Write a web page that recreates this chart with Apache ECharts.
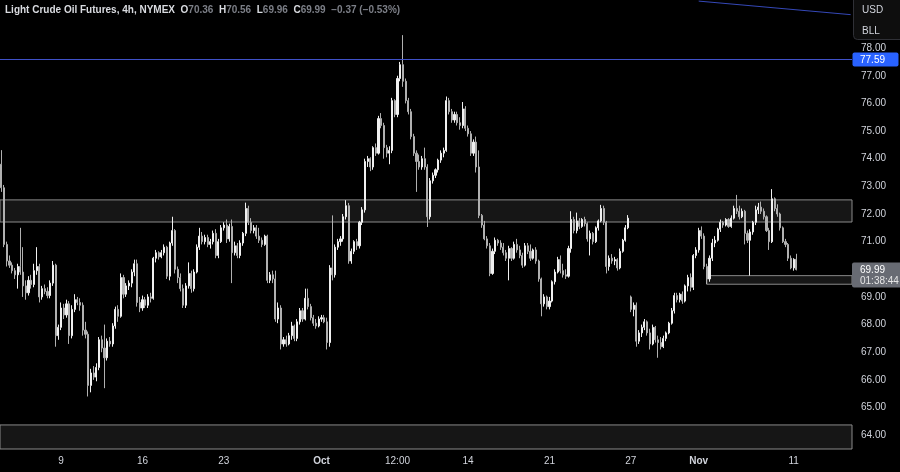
<!DOCTYPE html>
<html><head><meta charset="utf-8">
<script src="https://cdn.jsdelivr.net/npm/echarts@6/dist/echarts.min.js"></script>
<style>html,body{margin:0;padding:0;background:#000;overflow:hidden}#c{width:900px;height:472px}</style>
</head><body><div id="c"></div>
<script>
// ---- data (4h bars) ----
const opens = [
73.80,72.95,70.90,70.30,70.15,69.95,69.80,70.10,69.90,69.40,
69.15,69.60,69.45,69.95,70.10,69.00,69.30,69.20,69.05,69.50,
70.15,67.60,67.90,68.60,68.35,68.75,67.60,68.55,68.90,68.80,
68.70,67.80,67.65,65.80,66.25,66.10,66.45,67.45,67.15,66.80,
67.40,67.30,67.95,68.55,68.30,69.70,69.10,69.40,69.50,69.90,
70.20,68.80,68.60,68.90,68.70,69.00,68.95,70.40,70.60,70.45,
70.60,70.80,69.75,70.95,71.40,70.00,69.70,69.30,68.70,69.40,
69.85,69.30,69.90,70.80,71.20,71.00,71.15,70.90,71.00,71.30,
70.50,71.00,71.50,71.60,71.10,71.55,70.60,70.85,70.50,70.95,
71.30,72.20,71.70,71.40,71.50,71.20,71.05,70.90,71.20,69.60,
69.80,69.65,68.20,68.60,67.30,67.45,67.30,67.60,67.95,67.50,
68.10,68.50,68.20,68.95,68.65,68.25,68.05,67.95,68.20,68.25,
68.10,67.35,70.05,69.80,70.80,71.00,71.10,71.90,72.30,70.30,
70.65,71.00,70.85,71.70,72.15,73.90,74.00,73.70,74.40,74.20,
75.45,75.20,74.40,74.20,74.30,76.10,75.60,76.90,77.40,76.80,
76.10,75.70,74.80,74.20,73.90,73.70,74.00,73.70,71.90,73.20,
73.40,73.60,73.95,74.20,74.30,76.10,75.70,75.40,75.60,75.30,
75.20,75.80,75.10,74.90,74.20,74.60,73.70,71.95,71.60,71.10,
70.85,69.85,70.65,71.05,70.95,70.80,70.60,70.40,70.75,70.40,
70.90,70.70,70.50,70.15,70.85,70.65,70.40,70.70,70.30,69.65,
68.75,69.00,68.65,68.85,69.55,69.90,70.35,69.95,69.80,69.75,
70.75,71.80,71.40,71.75,71.55,71.80,71.65,71.10,71.30,71.00,
71.50,71.75,72.20,71.70,70.10,70.40,70.30,70.35,70.05,70.65,
71.05,71.50,69.00,68.55,68.70,67.40,67.70,67.90,68.10,67.70,
67.30,67.90,67.45,67.35,67.20,67.50,67.70,68.05,68.50,69.05,
68.90,69.10,68.85,69.40,69.70,69.35,70.50,70.70,71.40,71.20,
70.10,69.65,70.40,70.95,71.05,71.45,71.70,71.60,71.80,71.55,
71.85,72.20,72.10,71.90,72.10,71.30,71.05,71.35,71.70,72.15,
72.25,72.10,71.90,71.40,71.00,72.55,72.20,72.00,71.50,71.00,
70.90,70.40,70.05,70.36];
const highs = [
74.31,73.05,71.00,70.50,70.25,70.05,70.20,71.50,70.80,69.60,
69.75,69.80,70.20,70.80,70.20,69.40,69.45,69.35,69.60,70.30,
70.20,68.00,68.80,68.75,68.90,68.85,68.70,69.10,69.00,68.95,
68.80,68.10,67.75,66.40,66.50,66.60,67.55,67.60,68.00,67.50,
67.55,68.05,68.65,68.70,69.85,69.80,69.50,69.60,70.00,70.35,
70.35,69.00,69.05,69.00,69.10,69.15,70.45,70.70,70.65,70.70,
70.90,70.85,71.00,71.90,71.45,70.10,69.85,69.45,69.50,70.25,
69.95,70.00,70.90,71.50,71.35,71.25,71.25,71.10,71.40,71.45,
71.10,71.60,71.70,71.80,71.65,71.80,71.00,70.95,71.05,71.35,
72.41,72.30,71.85,71.60,71.60,71.50,71.15,71.25,71.25,69.90,
69.95,69.95,68.80,68.70,67.55,67.60,67.70,68.10,68.00,68.20,
68.60,68.60,69.30,69.30,68.75,68.35,68.20,68.30,68.35,68.35,
68.25,70.15,71.95,70.90,71.10,71.20,72.00,72.50,72.40,70.75,
71.05,71.10,71.75,72.25,74.00,74.10,74.05,74.45,74.55,75.55,
75.65,75.30,74.50,74.45,76.20,76.15,77.00,77.50,78.47,76.90,
76.20,75.80,74.90,74.30,74.15,74.10,74.40,73.80,73.30,73.50,
73.65,74.00,74.30,74.40,76.25,76.20,75.80,75.70,75.70,75.50,
76.05,75.90,75.20,75.00,74.70,74.80,74.30,72.00,71.75,71.20,
70.95,70.75,71.15,71.10,71.05,70.95,70.70,70.85,70.80,71.00,
71.10,70.85,70.60,70.95,70.95,70.90,70.75,70.80,70.35,69.70,
69.10,69.05,69.00,69.60,70.00,70.45,70.50,70.20,70.00,70.85,
72.10,71.90,72.05,71.85,71.85,71.90,71.70,71.40,71.35,71.55,
71.80,72.33,72.30,71.75,70.50,70.55,70.45,70.40,70.75,71.10,
71.60,71.96,69.05,68.80,68.80,67.80,68.00,68.20,68.15,67.85,
68.00,67.95,67.60,67.55,67.60,67.75,68.10,68.60,69.15,69.15,
69.15,69.20,69.45,69.80,69.85,70.55,70.80,71.50,71.55,71.30,
70.20,70.50,71.10,71.20,71.50,71.80,71.75,71.85,71.85,71.95,
72.30,72.69,72.30,72.20,72.15,71.40,71.45,71.75,72.30,72.40,
72.45,72.20,71.95,71.50,72.90,72.60,72.35,72.05,71.55,71.10,
70.95,70.50,70.40,70.56];
const lows = [
72.80,70.80,70.10,70.05,69.85,69.65,69.30,69.80,69.00,68.90,
69.05,69.30,69.35,69.80,68.80,68.90,69.10,68.95,68.95,69.40,
67.20,67.45,67.80,68.20,68.25,67.30,67.50,68.45,68.70,68.50,
67.60,67.50,65.40,65.55,66.00,65.95,66.35,67.00,65.70,66.70,
67.20,67.20,67.85,68.10,68.25,68.95,69.00,69.25,69.35,69.75,
68.65,68.45,68.50,68.60,68.60,68.80,68.90,70.25,70.35,70.40,
70.50,69.65,69.60,70.85,69.85,69.50,69.20,68.60,68.60,69.30,
69.15,69.20,69.85,70.70,70.90,70.90,70.80,70.75,70.90,70.40,
70.40,70.95,71.40,70.95,71.00,69.50,70.50,70.40,70.40,70.85,
71.20,71.60,71.30,71.30,71.10,70.95,70.80,70.85,69.50,69.50,
69.50,68.10,68.05,67.10,67.20,67.20,67.25,67.45,67.40,67.40,
68.00,68.10,68.15,68.55,68.15,67.95,67.85,67.90,68.10,68.05,
67.10,67.20,69.60,69.70,70.70,70.85,71.00,71.80,70.20,70.20,
70.55,70.70,70.75,71.60,72.05,73.70,73.55,73.60,74.10,74.15,
75.10,74.00,74.05,73.80,74.20,75.50,75.50,76.80,76.60,76.00,
75.60,74.70,74.10,72.80,73.60,73.60,73.60,71.53,71.80,73.10,
73.30,73.50,73.85,74.05,74.25,75.60,75.30,75.30,75.20,75.05,
75.10,75.00,74.80,74.10,74.10,73.50,71.85,71.50,71.05,70.75,
69.75,69.80,70.55,70.85,70.70,70.50,70.30,69.60,70.30,70.35,
70.60,70.40,70.05,70.10,70.55,70.30,70.35,70.20,69.55,68.30,
68.65,68.55,68.55,68.80,69.45,69.85,69.85,69.70,69.65,69.70,
70.60,71.30,71.30,71.45,71.50,71.55,71.00,70.50,70.90,70.95,
71.40,71.70,71.60,69.85,69.95,70.20,70.15,69.95,70.00,70.60,
71.00,71.45,68.45,68.30,67.20,67.30,67.55,67.80,67.60,67.10,
67.25,67.35,66.80,67.10,67.15,67.40,67.65,68.00,68.40,68.80,
68.80,68.75,68.80,69.20,69.20,69.25,70.40,70.60,71.10,70.00,
69.46,69.55,70.30,70.80,71.00,71.35,71.50,71.55,71.50,71.50,
71.80,72.00,71.80,71.85,70.90,70.95,69.77,71.25,71.60,72.00,
72.00,71.80,71.35,70.70,70.95,72.10,71.90,71.40,70.95,70.80,
70.30,70.00,69.95,69.96];
const closes = [
72.95,70.90,70.30,70.15,69.95,69.80,70.10,69.90,69.40,69.15,
69.60,69.45,69.95,70.10,69.00,69.30,69.20,69.05,69.50,70.15,
67.60,67.90,68.60,68.35,68.75,67.60,68.55,68.90,68.80,68.70,
67.80,67.65,65.80,66.25,66.10,66.45,67.45,67.15,66.80,67.40,
67.30,67.95,68.55,68.30,69.70,69.10,69.40,69.50,69.90,70.20,
68.80,68.60,68.90,68.70,69.00,68.95,70.40,70.60,70.45,70.60,
70.80,69.75,70.95,71.40,70.00,69.70,69.30,68.70,69.40,69.85,
69.30,69.90,70.80,71.20,71.00,71.15,70.90,71.00,71.30,70.50,
71.00,71.50,71.60,71.10,71.55,70.60,70.85,70.50,70.95,71.30,
72.20,71.70,71.40,71.50,71.20,71.05,70.90,71.20,69.60,69.80,
69.65,68.20,68.60,67.30,67.45,67.30,67.60,67.95,67.50,68.10,
68.50,68.20,68.95,68.65,68.25,68.05,67.95,68.20,68.25,68.10,
67.35,70.05,69.80,70.80,71.00,71.10,71.90,72.30,70.30,70.65,
71.00,70.85,71.70,72.15,73.90,74.00,73.70,74.40,74.20,75.45,
75.20,74.40,74.20,74.30,76.10,75.60,76.90,77.40,76.80,76.10,
75.70,74.80,74.20,73.90,73.70,74.00,73.70,71.90,73.20,73.40,
73.60,73.95,74.20,74.30,76.10,75.70,75.40,75.60,75.30,75.20,
75.80,75.10,74.90,74.20,74.60,73.70,71.95,71.60,71.10,70.85,
69.85,70.65,71.05,70.95,70.80,70.60,70.40,70.75,70.40,70.90,
70.70,70.50,70.15,70.85,70.65,70.40,70.70,70.30,69.65,68.75,
69.00,68.65,68.85,69.55,69.90,70.35,69.95,69.80,69.75,70.75,
71.80,71.40,71.75,71.55,71.80,71.65,71.10,71.30,71.00,71.50,
71.75,72.20,71.70,70.10,70.40,70.30,70.35,70.05,70.65,71.05,
71.50,71.85,68.55,68.70,67.40,67.70,67.90,68.10,67.70,67.30,
67.90,67.45,67.35,67.20,67.50,67.70,68.05,68.50,69.05,68.90,
69.10,68.85,69.40,69.70,69.35,70.50,70.70,71.40,71.20,70.10,
69.65,70.40,70.95,71.05,71.45,71.70,71.60,71.80,71.55,71.85,
72.20,72.10,71.90,72.10,71.30,71.05,71.35,71.70,72.15,72.25,
72.10,71.90,71.40,71.00,72.55,72.20,72.00,71.50,71.00,70.90,
70.40,70.05,70.36,69.99];

const tickIndex = [22, 52, 82, 118, 146, 172, 202, 232, 257, 292];
const tickText  = ['9', '16', '23', 'Oct', '12:00', '14', '21', '27', 'Nov', '11'];
const boldTicks = ['Oct', 'Nov'];
const yLabelValues = [64,65,66,67,68,69,70,71,72,73,74,75,76,77,78];

const resistanceZone = [71.71, 72.51];
const supportZone = [69.46, 69.77];
const supportZoneStartBar = 260;
const lowerZoneTop = 64.37;
const levelLine = 77.59;
const trendLine = [[257, 79.70], [313, 79.21]];
const countdown = '01:38:44';
const symbolTitle = 'Light Crude Oil Futures, 4h, NYMEX';

// ---- chart ----
const SLOTS = 314; // bars + empty right margin
const categories = Array.from({length: SLOTS}, (_, i) => 'b' + i);
const candleData = opens.map((o, i) => [o, closes[i], lows[i], highs[i]]);
const tickMap = {};
tickIndex.forEach((t, k) => { tickMap[t] = tickText[k]; });

const FONT = "'Liberation Sans',Arial,sans-serif";
const FS = 10;
const BLUE = '#3548b8';
const last = closes.length - 1;
const chg = closes[last] - closes[last - 1];
const pct = chg / closes[last - 1] * 100;
const fmtS = v => (v < 0 ? '\u2212' : '+') + Math.abs(v).toFixed(2);
const headerText = '{n|' + symbolTitle + '}  ' +
  '{k|O}{v|' + opens[last].toFixed(2) + '}  {k|H}{v|' + highs[last].toFixed(2) +
  '}  {k|L}{v|' + lows[last].toFixed(2) + '}  {k|C}{v|' + closes[last].toFixed(2) +
  '}  {v|' + fmtS(chg) + ' (' + fmtS(pct) + '%)}';

const chart = echarts.init(document.getElementById('c'), null, {renderer: 'canvas'});
const option = {
  backgroundColor: '#000000',
  animation: false,
  textStyle: {fontFamily: FONT},
  title: {
    left: 5, top: 5, padding: 0,
    text: headerText,
    textStyle: {
      fontFamily: FONT, fontSize: FS,
      rich: {
        n: {color: '#d9dbe0', fontSize: 10, fontFamily: FONT},
        k: {color: '#d9dbe0', fontSize: 10, fontFamily: FONT},
        v: {color: '#7c7f87', fontSize: 10, fontFamily: FONT}
      }
    }
  },
  grid: {left: 0, right: 48, top: 0, bottom: 23},
  xAxis: {
    type: 'category', data: categories, boundaryGap: true,
    axisLine: {show: false}, axisTick: {show: false}, splitLine: {show: false},
    axisLabel: {
      interval: (idx) => tickMap[idx] !== undefined,
      formatter: (v, idx) => {
        const t = tickMap[idx];
        if (t === undefined) return '';
        return boldTicks.indexOf(t) >= 0 ? '{b|' + t + '}' : t;
      },
      color: '#d1d4dc', fontSize: FS, margin: 7, fontFamily: FONT,
      rich: {b: {fontWeight: 'bold', color: '#d1d4dc', fontSize: FS, fontFamily: FONT}}
    }
  },
  yAxis: {
    type: 'value', position: 'right', min: 63.5, max: 79.74,
    axisLine: {show: false}, axisTick: {show: false}, splitLine: {show: false},
    axisLabel: {
      customValues: yLabelValues,
      formatter: v => v.toFixed(2),
      color: '#d1d4dc', fontSize: FS, margin: 9, fontFamily: FONT
    }
  },
  series: [{
    type: 'candlestick',
    data: candleData,
    barWidth: 1.6,
    itemStyle: {
      color: '#f0f0f0', color0: '#b0b0b0',
      borderColor: '#f0f0f0', borderColor0: '#b0b0b0', borderWidth: 1
    },
    markArea: {
      silent: true,
      itemStyle: {color: '#161616', borderColor: '#8a8a8a', borderWidth: 1},
      data: [
        [{yAxis: resistanceZone[0]}, {yAxis: resistanceZone[1]}],
        [{xAxis: supportZoneStartBar, yAxis: supportZone[0]}, {yAxis: supportZone[1]}],
        [{}, {yAxis: lowerZoneTop}]
      ]
    }
  }, {
    // trend line in the top-right corner
    type: 'line', data: trendLine, silent: true, symbol: 'none', showSymbol: false,
    lineStyle: {color: BLUE, width: 1, type: 'solid'}, itemStyle: {color: BLUE},
    emphasis: {disabled: true}, z: 3
  }]
};
chart.setOption(option);

// level line (pixel-aligned), price labels on the scale and the currency box
const lastY = chart.convertToPixel({yAxisIndex: 0}, closes[last]);
const levelY = chart.convertToPixel({yAxisIndex: 0}, levelLine);
const crispY = Math.round(levelY - 0.5) + 0.5;
chart.setOption({
  graphic: [
    {type: 'line', shape: {x1: 0, y1: crispY, x2: 852, y2: crispY},
     style: {stroke: '#3f51c8', lineWidth: 1}, z: 50},
    {type: 'rect', shape: {x: 852.5, y: levelY - 7, width: 46, height: 14, r: 2},
     style: {fill: '#2962ff'}, z: 100},
    {type: 'text', x: 860, y: levelY + 0.5, z: 101,
     style: {text: levelLine.toFixed(2), fill: '#ffffff', font: FS + 'px ' + FONT, verticalAlign: 'middle'}},
    {type: 'rect', shape: {x: 852, y: lastY - 7, width: 48, height: 25, r: [2, 0, 0, 2]},
     style: {fill: '#686b73'}, z: 100},
    {type: 'text', x: 860, y: lastY + 0.5, z: 101,
     style: {text: closes[last].toFixed(2), fill: '#ffffff', font: FS + 'px ' + FONT, verticalAlign: 'middle'}},
    {type: 'text', x: 860, y: lastY + 12, z: 101,
     style: {text: countdown, fill: '#e6e6e6', font: FS + 'px ' + FONT, verticalAlign: 'middle'}},
    {type: 'rect', shape: {x: 853.5, y: -5, width: 52, height: 44.5, r: 4},
     style: {fill: '#0e0e0e', stroke: '#2f3036', lineWidth: 1}, z: 100},
    {type: 'text', x: 862, y: 10, z: 101,
     style: {text: 'USD', fill: '#d1d4dc', font: FS + 'px ' + FONT, verticalAlign: 'middle'}},
    {type: 'text', x: 862, y: 31, z: 101,
     style: {text: 'BLL', fill: '#d1d4dc', font: FS + 'px ' + FONT, verticalAlign: 'middle'}}
  ]
});
</script>
</body></html>
